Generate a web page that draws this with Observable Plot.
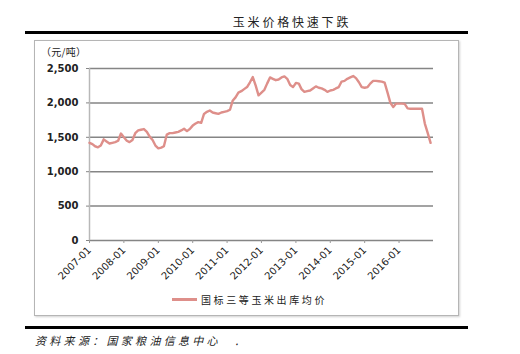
<!DOCTYPE html>
<html><head><meta charset="utf-8">
<script src="https://cdn.jsdelivr.net/npm/d3@7"></script>
<script src="https://cdn.jsdelivr.net/npm/@observablehq/plot@0.6"></script>
<style>
html,body{margin:0;padding:0;background:#fff}
body{width:520px;height:354px;position:relative;overflow:hidden;font-family:"Noto Sans CJK SC",sans-serif;color:#222}
#title{position:absolute;left:0;width:584px;top:15px;text-align:center;font-size:12px;letter-spacing:2.8px;line-height:14px}
.rule{position:absolute;left:25px;width:443px;height:3px;background:#000}
#frame{position:absolute;left:34px;top:40px;width:423px;height:274px;border:1.5px solid #b5b5b5;box-shadow:1px 1px 2px #d0d0d0}
#unit{position:absolute;left:41px;top:45px;font-size:10px;line-height:13px;letter-spacing:0.3px}
#chart{position:absolute;left:0;top:40px}
#legend{position:absolute;left:172px;top:293px;font-size:10px;line-height:13px;letter-spacing:2.6px;display:flex;align-items:center}
#legend .sw{display:inline-block;width:25px;height:3px;background:#de8f8a;margin-right:4px}
#source{position:absolute;left:35px;top:333px;font-size:11px;line-height:14px;letter-spacing:3.3px;font-style:italic}
</style></head><body>
<div id="title">玉米价格快速下跌</div>
<div class="rule" style="top:31px"></div>
<div id="frame"></div>
<div id="unit">（元/吨）</div>
<div id="chart"></div>
<div id="legend"><span class="sw"></span><span>国标三等玉米出库均价</span></div>
<div class="rule" style="top:326px"></div>
<div id="source">资料来源：国家粮油信息中心　.</div>
<script>
const startMonth = "2007-01";
const seriesName = "国标三等玉米出库均价";
const yTicks = [0, 500, 1000, 1500, 2000, 2500];
const xTickYears = [2007, 2008, 2009, 2010, 2011, 2012, 2013, 2014, 2015, 2016];
// monthly average price, 元/吨, 2007-01 .. 2016-12
const prices = [
  1420, 1400, 1370, 1355, 1380, 1470, 1440, 1410, 1420, 1430, 1450, 1555,
  1500, 1450, 1430, 1460, 1560, 1600, 1610, 1620, 1580, 1510, 1460, 1380,
  1340, 1350, 1370, 1540, 1560, 1560, 1570, 1580, 1600, 1625, 1590, 1620,
  1670, 1700, 1720, 1710, 1840, 1870, 1890, 1860, 1850, 1840, 1860, 1870,
  1880, 1900, 2030, 2080, 2150, 2170, 2200, 2230, 2300, 2375, 2250, 2110,
  2150, 2190, 2280, 2370, 2350, 2330, 2340, 2370, 2385, 2350, 2260, 2230,
  2290, 2280, 2200, 2160, 2170, 2180, 2210, 2240, 2220, 2210, 2190, 2160,
  2180, 2190, 2210, 2230, 2310, 2320, 2350, 2370, 2390, 2360, 2300, 2230,
  2220, 2230, 2280, 2320, 2320, 2315, 2310, 2295, 2150, 2000, 1940, 1990,
  1990, 1990, 1985, 1920, 1915, 1915, 1915, 1915, 1915, 1700, 1560, 1420
];
const start = d3.utcParse("%Y-%m")(startMonth);
const data = prices.map((p, i) => ({date: d3.utcMonth.offset(start, i), price: p}));
const xTicks = xTickYears.map(y => new Date(Date.UTC(y, 0, 1)));
const x0 = new Date(Date.UTC(2007, 0, 1)), x1 = new Date(Date.UTC(2017, 0, 1));

const chart = Plot.plot({
  width: 520, height: 255,
  marginLeft: 89, marginRight: 87, marginTop: 28, marginBottom: 55,
  style: {fontFamily: "DejaVu Sans", fontSize: "10px", color: "#222", background: "transparent", overflow: "visible"},
  x: {type: "utc", domain: [x0, x1]},
  y: {domain: [0, 2500]},
  marks: [
    Plot.ruleY(yTicks, {stroke: "#858585", strokeWidth: 1.5}),
    Plot.ruleX([x0], {y1: 0, y2: 2500, stroke: "#b8b8b8", strokeWidth: 1.5}),
    Plot.axisY({ticks: yTicks, tickFormat: d3.format(","), tickSize: 3, tickPadding: 8, stroke: "#858585", label: null, fontWeight: "bold"}),
    Plot.axisX({ticks: xTicks, tickFormat: d3.utcFormat("%Y-%m"), tickSize: 3, tickPadding: 5, tickRotate: -45, stroke: "#999", label: null}),
    Plot.lineY(data, {x: "date", y: "price", stroke: "#de8f8a", strokeWidth: 2.4, curve: "linear"})
  ]
});
document.getElementById("chart").appendChild(chart);
</script>
</body></html>
